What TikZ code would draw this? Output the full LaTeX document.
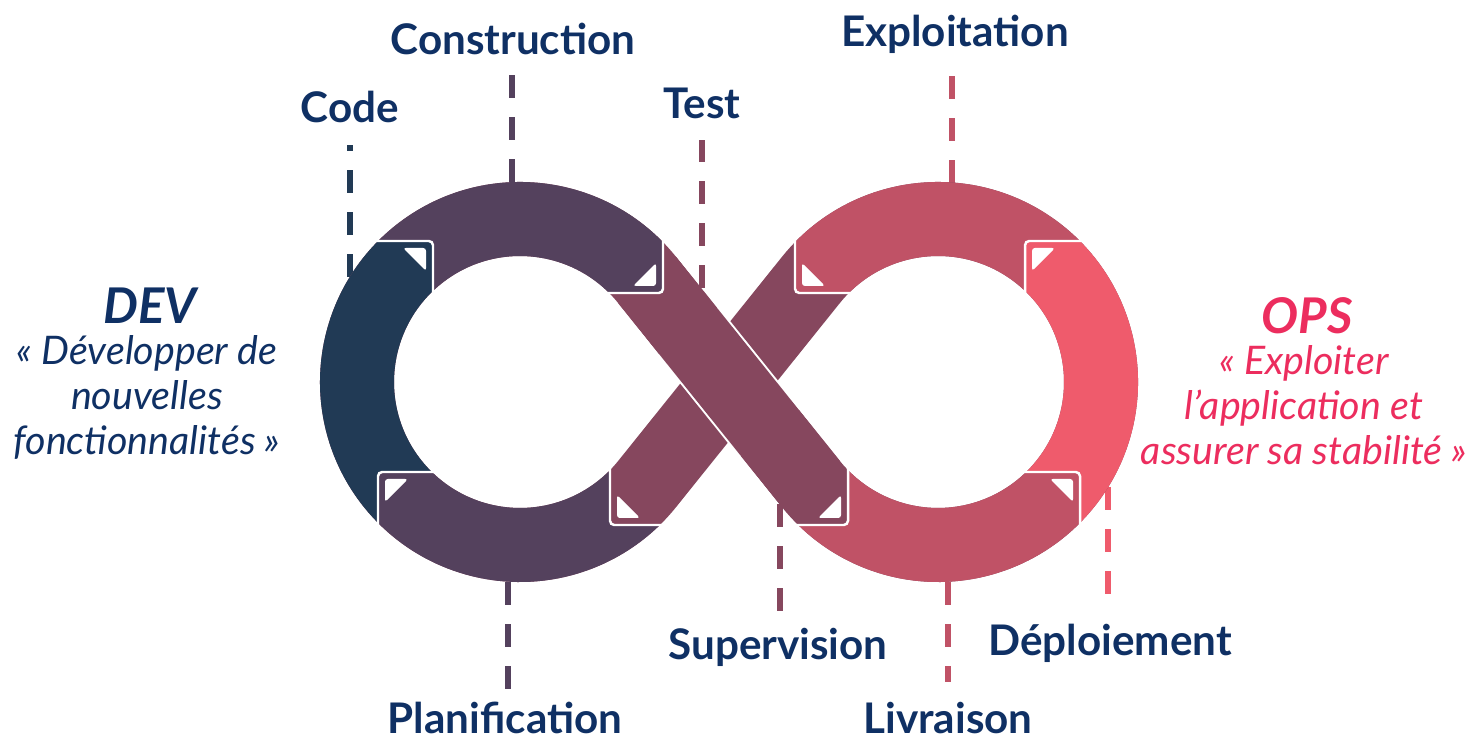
\documentclass[tikz,border=0pt]{standalone}
\usepackage{fontspec}
\setmainfont{Lato}
\usepackage{tikz}
\usetikzlibrary{calc}
\usepackage{xcolor}
\definecolor{devblue}{HTML}{213A55}
\definecolor{buildpurple}{HTML}{54415D}
\definecolor{testmauve}{HTML}{86475E}
\definecolor{opsrose}{HTML}{C05266}
\definecolor{deploycoral}{HTML}{EF5B6C}
\definecolor{textblue}{HTML}{0F3064}
\definecolor{opstext}{HTML}{EC2D5E}
\tikzset{eight/.style={insert path={(647.2,459.9) arc[start angle=38.7, end angle=321.3, radius=163]
	-- (810.8,459.9) arc[start angle=141.3, end angle=-141.3, radius=163] -- cycle}}}

\begin{document}
\begin{tikzpicture}[x=0.01cm, y=0.01cm]
		\tikzstyle{band}=[line width=0.74cm]
		\tikzstyle{phase}=[font=\bfseries\fontsize{12}{14}\selectfont, text=textblue, anchor=base]
		\tikzstyle{team}=[font=\bfseries\itshape\fontsize{14}{16}\selectfont, anchor=base]
		\tikzstyle{motto}=[font=\itshape\fontsize{11.2}{12.8}\selectfont, align=center, anchor=base]
		\tikzstyle{tick}=[line width=0.06cm, dash pattern=on 0.23cm off 0.19cm]
		\tikzstyle{fold}=[draw=white, line width=0.7pt, rounded corners=1.2pt]
		\useasboundingbox (0,0) rectangle (1480,740);
		% labels
		\node[phase] (code) at (350,617) {Code};
		\node[phase] (construction) at (513,685) {Construction};
		\node[phase] (test) at (702,621) {Test};
		\node[phase] (exploitation) at (955,693) {Exploitation};
		\node[phase] (planification) at (505,6) {Planification};
		\node[phase] (supervision) at (778,80) {Supervision};
		\node[phase] (livraison) at (948,7) {Livraison};
		\node[phase] (deploiement) at (1110,84) {Déploiement};
		\node[team, text=textblue] (dev) at (150,416) {DEV};
		\node[motto, text=textblue] (devtext) at (147,285) {« Développer de\\nouvelles\\fonctionnalités »};
		\node[team, text=opstext] (ops) at (1307,406) {OPS};
		\node[motto, text=opstext] (opstxt) at (1304,275) {« Exploiter\\l’application et\\assurer sa stabilité »};
		% dashed ticks
		\coordinate (codeband) at (350,463);
		\coordinate (codeend) at (350,595);
		\coordinate (constructionband) at (512,558);
		\coordinate (constructionend) at (512,665);
		\coordinate (testband) at (702,452);
		\coordinate (testend) at (702,600);
		\coordinate (exploitationband) at (952,557);
		\coordinate (exploitationend) at (952,668);
		\coordinate (planificationband) at (508,158);
		\coordinate (planificationend) at (508,48);
		\coordinate (supervisionband) at (780,236);
		\coordinate (supervisionend) at (780,128);
		\coordinate (livraisonband) at (948,158);
		\coordinate (livraisonend) at (948,58);
		\coordinate (deploiementband) at (1108,253);
		\coordinate (deploiementend) at (1108,128);
		\draw[tick, devblue] (codeband) -- (codeend);
		\draw[tick, buildpurple] (constructionband) -- (constructionend);
		\draw[tick, testmauve] (testband) -- (testend);
		\draw[tick, opsrose] (exploitationband) -- (exploitationend);
		\draw[tick, buildpurple] (planificationband) -- (planificationend);
		\draw[tick, testmauve] (supervisionband) -- (supervisionend);
		\draw[tick, opsrose] (livraisonband) -- (livraisonend);
		\draw[tick, deploycoral] (deploiementband) -- (deploiementend);
		% the loop
		\coordinate (upper) at (647.2,459.9);
		\coordinate (lower) at (810.8,256.1);
		\draw[band, testmauve, eight];
		\draw[white, line width=0.78cm] ($(upper)!0.25!(lower)$) -- ($(upper)!0.75!(lower)$);
		\draw[band, testmauve] (upper) -- (lower);
		\begin{scope}
			\clip (0,0) -- (0,499) -- (433,499) -- (433,268) -- (378,268) -- (378,0) -- cycle;
			\draw[band, devblue, eight];
		\end{scope}
		\begin{scope}
			\clip (0,499) -- (433,499) -- (433,447) -- (663,447) -- (663,740) -- (0,740) -- cycle;
			\draw[band, buildpurple, eight];
		\end{scope}
		\begin{scope}
			\clip (378,0) -- (378,268) -- (610,268) -- (610,215) -- (729,215) -- (729,0) -- cycle;
			\draw[band, buildpurple, eight];
		\end{scope}
		\begin{scope}
			\clip (795,447) -- (795,740) -- (1480,740) -- (1480,499) -- (1025,499) -- (1025,447) -- cycle;
			\draw[band, opsrose, eight];
		\end{scope}
		\begin{scope}
			\clip (1025,499) -- (1480,499) -- (1480,0) -- (1080,0) -- (1080,268) -- (1025,268) -- cycle;
			\draw[band, deploycoral, eight];
		\end{scope}
		\begin{scope}
			\clip (729,0) -- (729,215) -- (848,215) -- (848,358) -- (1025,358) -- (1025,268) -- (1080,268) -- (1080,0) -- cycle;
			\draw[band, opsrose, eight];
		\end{scope}
		% folded corners
		\foreach \x/\y/\sx/\sy in {433/499/-1/-1, 663/447/-1/1, 378/268/1/-1, 610/215/1/1,
			795/447/1/1, 1025/499/1/-1, 848/215/-1/1, 1080/268/-1/-1}{
			\draw[fold] ({\x+58*\sx},\y) -- (\x,\y) -- (\x,{\y+58*\sy});
			\fill[white, rounded corners=0.8pt] ({\x+7*\sx},{\y+7*\sy}) -- ({\x+30*\sx},{\y+7*\sy})
				-- ({\x+7*\sx},{\y+30*\sy}) -- cycle;
		}
	\end{tikzpicture}
\end{document}
